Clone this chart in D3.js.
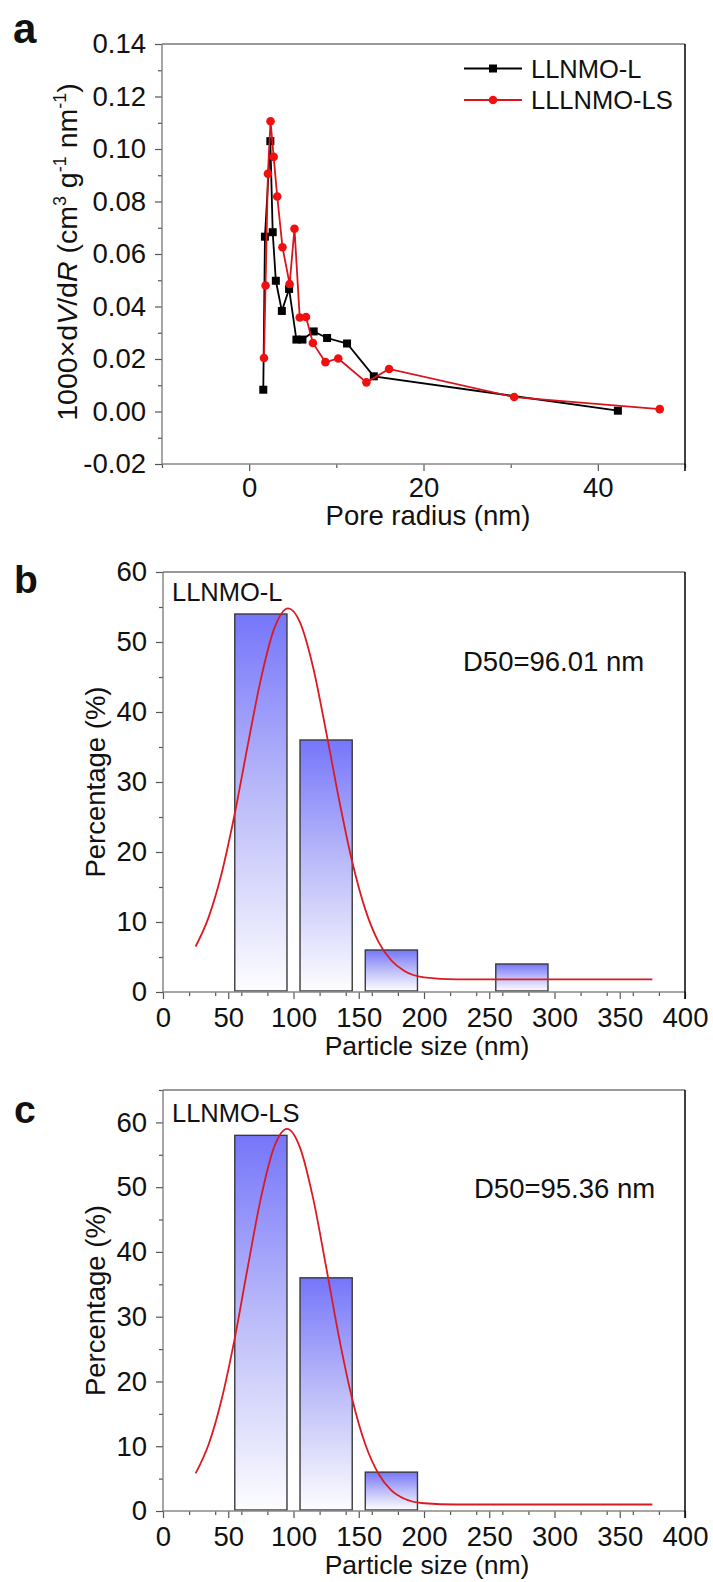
<!DOCTYPE html>
<html lang="en">
    <head>
        <meta charset="utf-8">
        <title>Pore size and particle size</title>
        <script type="text/javascript" src="https://d3js.org/d3.v7.min.js"></script>
        <style>
            body { margin: 0; background: #fff; }
            svg { display: block; }
            text { font-family: "Liberation Sans", Arial, sans-serif; fill: #111; }
            .axis text { font-size: 27.5px; }
            .axis line { stroke: #555; stroke-width: 1.2; }
        </style>
    </head>
    <body>
        <script>
            // panel a : pore size distribution
            const poreL_x  = [1.62, 1.81, 2.43, 2.70, 3.06, 3.75, 4.58, 5.42, 6.11, 7.40, 8.94, 11.23, 14.3, 42.3];
            const poreL_y  = [0.0083, 0.0666, 0.1030, 0.0683, 0.0498, 0.0383, 0.0467, 0.0274, 0.0274, 0.0305, 0.0280, 0.0259, 0.0134, 0.0003];
            const poreLS_x = [1.70, 1.88, 2.15, 2.45, 2.81, 3.22, 3.82, 4.64, 5.20, 5.80, 6.52, 7.31, 8.75, 10.22, 13.45, 16.05, 30.4, 47.1];
            const poreLS_y = [0.0204, 0.0480, 0.0906, 0.1106, 0.0970, 0.0819, 0.0626, 0.0486, 0.0696, 0.0358, 0.0360, 0.0261, 0.0188, 0.0202, 0.0111, 0.0162, 0.0055, 0.0009];
            const seriesNames = ["LLNMO-L", "LLLNMO-LS"];

            // panels b, c : particle size histograms (bin edges in nm)
            const binLo = [55, 105, 155, 255];
            const binHi = [95, 145, 195, 295];
            const pctL  = [54, 36, 6, 4];
            const pctLS = [58, 36, 6];

            // fitted curves
            const fitX_L  = [25, 35, 45, 55, 65, 75, 85, 96, 105, 115, 125, 135, 145, 155, 165, 175, 185, 200, 225, 300, 375];
            const fitY_L  = [6.5, 10.7, 17.0, 25.5, 35.3, 44.7, 51.8, 54.8, 52.8, 46.4, 37.2, 27.4, 18.6, 11.8, 7.2, 4.5, 3.0, 2.1, 1.8, 1.8, 1.8];
            const fitX_LS = [25, 35, 45, 55, 65, 75, 85, 95, 105, 115, 125, 135, 145, 155, 165, 175, 185, 200, 225, 300, 375];
            const fitY_LS = [5.8, 10.3, 17.3, 26.7, 37.7, 48.3, 56.1, 59.0, 56.1, 48.3, 37.7, 26.7, 17.3, 10.3, 5.8, 3.2, 1.9, 1.2, 1.0, 1.0, 1.0];

            const w = 713;
            const h = 1582;
            const svg = d3.select("body")
                        .append("svg")
                        .attr("width", w)
                        .attr("height", h)

            // gradient for the bars
            const grad = svg.append("defs").append("linearGradient")
                .attr("id", "barGrad")
                .attr("x1", 0).attr("y1", 0).attr("x2", 0).attr("y2", 1)
            grad.append("stop").attr("offset", "0%").attr("stop-color", "#7676fb")
            grad.append("stop").attr("offset", "50%").attr("stop-color", "#bdbdf9")
            grad.append("stop").attr("offset", "100%").attr("stop-color", "#fdfdff")

            // frame: grey left/top/bottom, black right
            function frame(xs, ys) {
                const [x0, x1] = xs.range();
                const [y1, y0] = ys.range();
                const g = svg.append("g")
                g.append("line").attr("x1", x0).attr("x2", x1).attr("y1", y0).attr("y2", y0).attr("stroke", "#777").attr("stroke-width", 1.3)
                g.append("line").attr("x1", x0).attr("x2", x0).attr("y1", y0).attr("y2", y1).attr("stroke", "#777").attr("stroke-width", 1.3)
                g.append("line").attr("x1", x0).attr("x2", x1).attr("y1", y1).attr("y2", y1).attr("stroke", "#888").attr("stroke-width", 1.3)
                g.append("line").attr("x1", x1).attr("x2", x1).attr("y1", y0).attr("y2", y1 + 7).attr("stroke", "#000").attr("stroke-width", 1.5)
            }

            function axes(xs, ys, xMajor, xMinor, yMajor, yMinor, yFmt, xPad) {
                const bottom = ys.range()[0];
                const left = xs.range()[0];
                svg.append("g").attr("class", "axis").attr("transform", `translate(0,${bottom})`)
                    .call(d3.axisBottom(xs).tickValues(xMinor).tickSize(4).tickFormat(""))
                    .call(g => g.select(".domain").remove())
                svg.append("g").attr("class", "axis").attr("transform", `translate(0,${bottom})`)
                    .call(d3.axisBottom(xs).tickValues(xMajor).tickSize(7).tickPadding(xPad).tickFormat(d3.format("d")))
                    .call(g => g.select(".domain").remove())
                svg.append("g").attr("class", "axis").attr("transform", `translate(${left},0)`)
                    .call(d3.axisLeft(ys).tickValues(yMinor).tickSize(4).tickFormat(""))
                    .call(g => g.select(".domain").remove())
                svg.append("g").attr("class", "axis").attr("transform", `translate(${left},0)`)
                    .call(d3.axisLeft(ys).tickValues(yMajor).tickSize(7).tickPadding(9).tickFormat(yFmt))
                    .call(g => g.select(".domain").remove())
            }

            // ---------------- panel a ----------------
            const xA = d3.scaleLinear().domain([-10, 50]).range([162, 685])
            const yA = d3.scaleLinear().domain([-0.02, 0.14]).range([464, 44])
            axes(xA, yA, [0, 20, 40], xA.ticks(6).filter(d => d % 20 !== 0),
                 yA.ticks(8), yA.ticks(16).filter(d => Math.round(d * 100) % 2 !== 0),
                 d => d.toFixed(2), 6)
            frame(xA, yA)

            const lineA = d3.line().x(d => xA(d[0])).y(d => yA(d[1]))
            const dataL = poreL_x.map((v, i) => [v, poreL_y[i]])
            const dataLS = poreLS_x.map((v, i) => [v, poreLS_y[i]])

            svg.append("path").datum(dataL).attr("d", lineA)
                .attr("fill", "none").attr("stroke", "#000").attr("stroke-width", 1.8)
            svg.selectAll(".sqL").data(dataL).enter().append("rect")
                .attr("x", d => xA(d[0]) - 4).attr("y", d => yA(d[1]) - 4)
                .attr("width", 8).attr("height", 8).attr("fill", "#000")

            svg.append("path").datum(dataLS).attr("d", lineA)
                .attr("fill", "none").attr("stroke", "#d8141c").attr("stroke-width", 1.8)
            svg.selectAll(".ciLS").data(dataLS).enter().append("circle")
                .attr("cx", d => xA(d[0])).attr("cy", d => yA(d[1]))
                .attr("r", 4.3).attr("fill", "#f01010")

            // legend
            const leg = svg.append("g")
            leg.append("line").attr("x1", 464).attr("x2", 522).attr("y1", 68.5).attr("y2", 68.5).attr("stroke", "#000").attr("stroke-width", 1.8)
            leg.append("rect").attr("x", 489).attr("y", 64.5).attr("width", 8).attr("height", 8).attr("fill", "#000")
            leg.append("line").attr("x1", 464).attr("x2", 522).attr("y1", 100).attr("y2", 100).attr("stroke", "#d8141c").attr("stroke-width", 1.8)
            leg.append("circle").attr("cx", 493).attr("cy", 100).attr("r", 4.3).attr("fill", "#f01010")
            leg.append("text").attr("x", 531).attr("y", 77.5).attr("font-size", 25.5).text(seriesNames[0])
            leg.append("text").attr("x", 531).attr("y", 109).attr("font-size", 25.5).text(seriesNames[1])

            // titles
            svg.append("text").attr("x", 13).attr("y", 43).attr("font-size", 42).attr("font-weight", "bold").text("a")
            svg.append("text").attr("x", 428).attr("y", 525).attr("font-size", 27.5).attr("text-anchor", "middle").text("Pore radius (nm)")
            const ta = svg.append("text").attr("transform", "translate(77,252) rotate(-90)")
                .attr("font-size", 28.5).attr("text-anchor", "middle")
            ta.append("tspan").text("1000×d")
            ta.append("tspan").attr("font-style", "italic").text("V")
            ta.append("tspan").text("/d")
            ta.append("tspan").attr("font-style", "italic").text("R")
            ta.append("tspan").text(" (cm")
            ta.append("tspan").attr("font-size", 18).attr("dy", -11).text("3")
            ta.append("tspan").attr("dy", 11).text(" g")
            ta.append("tspan").attr("font-size", 18).attr("dy", -11).text("-1")
            ta.append("tspan").attr("dy", 11).text(" nm")
            ta.append("tspan").attr("font-size", 18).attr("dy", -11).text("-1")
            ta.append("tspan").attr("dy", 11).text(")")

            // ---------------- panels b and c ----------------
            function histPanel(top, bottom, yMax, pct, fitX, fitY, label, sample, d50, d50x, d50y, labY) {
                const xs = d3.scaleLinear().domain([0, 400]).range([163, 685])
                const ys = d3.scaleLinear().domain([0, yMax]).range([bottom, top])
                axes(xs, ys, xs.ticks(8), xs.ticks(16).filter(d => d % 50 !== 0),
                     d3.range(0, 61, 10), ys.ticks(yMax / 5).filter(d => d % 10 !== 0),
                     d3.format("d"), 8)

                const bars = pct.map((v, i) => ({lo: binLo[i], hi: binHi[i], v: v}))
                svg.selectAll(null).data(bars).enter().append("rect")
                    .attr("x", d => xs(d.lo)).attr("y", d => ys(d.v))
                    .attr("width", d => xs(d.hi) - xs(d.lo))
                    .attr("height", d => ys(0) - ys(d.v) - 1)
                    .attr("fill", "url(#barGrad)")
                    .attr("stroke", "#3a3a3a").attr("stroke-width", 1.4)

                const fit = fitX.map((v, i) => [v, fitY[i]])
                svg.append("path").datum(fit)
                    .attr("d", d3.line().x(d => xs(d[0])).y(d => ys(d[1])).curve(d3.curveMonotoneX))
                    .attr("fill", "none").attr("stroke", "#dc1a22").attr("stroke-width", 1.8)

                frame(xs, ys)

                svg.append("text").attr("x", 14).attr("y", labY).attr("font-size", 39).attr("font-weight", "bold").text(label)
                svg.append("text").attr("x", 172).attr("y", sample.y).attr("font-size", 25.5).text(sample.t)
                svg.append("text").attr("x", d50x).attr("y", d50y).attr("font-size", 27.5).text(d50)
                svg.append("text").attr("x", 427).attr("y", bottom + 63).attr("font-size", 26.5).attr("text-anchor", "middle").text("Particle size (nm)")
                svg.append("text").attr("transform", `translate(105,${(top + bottom) / 2}) rotate(-90)`)
                    .attr("font-size", 27.5).attr("text-anchor", "middle").text("Percentage (%)")
            }

            histPanel(572, 992, 60, pctL, fitX_L, fitY_L, "b", {t: "LLNMO-L", y: 601}, "D50=96.01 nm", 463, 671, 593)
            histPanel(1090, 1511, 65, pctLS, fitX_LS, fitY_LS, "c", {t: "LLNMO-LS", y: 1122}, "D50=95.36 nm", 474, 1198, 1123)
        </script>
    </body>
</html>
